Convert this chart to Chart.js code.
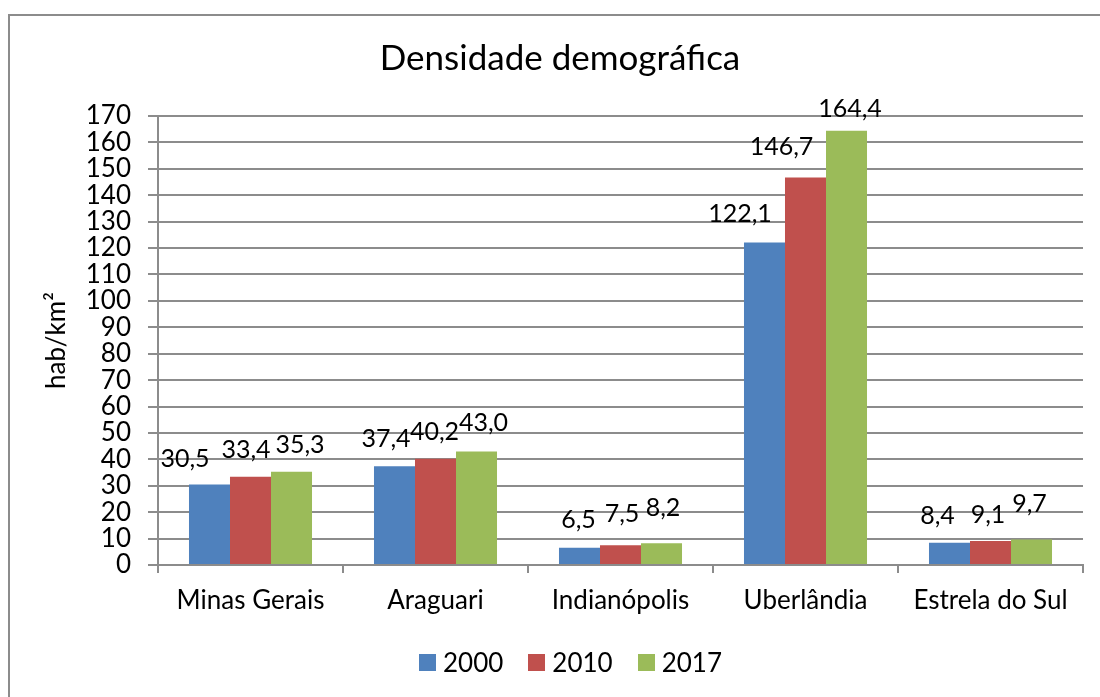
<!DOCTYPE html>
<html>
<head>
<meta charset="utf-8">
<title>Densidade demográfica</title>
<script src="https://cdn.jsdelivr.net/npm/chart.js@4.4.0/dist/chart.umd.min.js"></script>
<style>
  html, body { margin: 0; padding: 0; background: #fff; }
  #wrap { position: relative; width: 1100px; height: 697px; overflow: hidden; }
  #frame { position: absolute; left: 8px; top: 14px; width: 1200px; height: 800px;
           border-left: 2px solid #8c8c8c; border-top: 2px solid #8c8c8c; }
  #chart { position: absolute; left: 0; top: 0; }
  #legend { position: absolute; left: 419px; top: 647px; display: flex; align-items: center;
            font: 26px Lato, sans-serif; color: #000; }
  .item { display: flex; align-items: center; margin-right: 25px; line-height: 30px; }
  .box { width: 17px; height: 17px; margin-right: 7px; }
</style>
</head>
<body>
<div id="wrap">
  <div id="frame"></div>
  <canvas id="chart" width="1100" height="697"></canvas>
  <div id="legend"></div>
</div>
<script>
// data
const categories = ['Minas Gerais', 'Araguari', 'Indianópolis', 'Uberlândia', 'Estrela do Sul'];
const years = ['2000', '2010', '2017'];
const values2000 = [30.5, 37.4, 6.5, 122.1, 8.4];
const values2010 = [33.4, 40.2, 7.5, 146.7, 9.1];
const values2017 = [35.3, 43.0, 8.2, 164.4, 9.7];
const yTicks = { min: 0, max: 170, step: 10 };

// styling
const colors = ['#4F81BD', '#C0504D', '#9BBB59'];
const gridColor = '#8c8c8c';
const FONT = 'Lato, sans-serif';
// hand-placed label nudges (px), per series then category
const labelDx = [
  [-24.5, -8.5, -1, -24.5, -12],
  [-4.5, -1, 1.5, -24, -2.5],
  [8.5, 7, 1.5, 3.5, -2]
];
const labelGap = [
  [17, 19, 20, 21, 19],
  [19, 19, 23, 23, 18],
  [19, 20, 27, 14, 27]
];

const fmt = (v) => v.toFixed(1).replace('.', ',');

// draws the value labels above the bars
const valueLabels = {
  id: 'valueLabels',
  afterDatasetsDraw(chart) {
    const ctx = chart.ctx;
    ctx.save();
    ctx.font = '25px ' + FONT;
    ctx.fillStyle = '#000';
    ctx.textAlign = 'center';
    ctx.textBaseline = 'alphabetic';
    chart.data.datasets.forEach((ds, di) => {
      chart.getDatasetMeta(di).data.forEach((bar, i) => {
        ctx.fillText(fmt(ds.data[i]), bar.x + labelDx[di][i], bar.y - labelGap[di][i]);
      });
    });
    ctx.restore();
  }
};

const seriesValues = [values2000, values2010, values2017];

const chart = new Chart(document.getElementById('chart').getContext('2d'), {
  type: 'bar',
  data: {
    labels: categories,
    datasets: years.map((y, i) => ({
      label: y,
      data: seriesValues[i],
      backgroundColor: colors[i],
      borderWidth: 0,
      barPercentage: 1,
      categoryPercentage: 0.665
    }))
  },
  options: {
    responsive: false,
    animation: false,
    layout: { padding: { left: 37, right: 17, top: 0, bottom: 0 } },
    plugins: {
      legend: { display: false },
      tooltip: { enabled: false },
      title: {
        display: true,
        text: 'Densidade demográfica',
        color: '#000',
        font: { family: FONT, size: 35, weight: 'normal' },
        padding: { top: 38, bottom: 36 }
      }
    },
    scales: {
      x: {
        afterFit: (s) => { s.height = 132; },
        grid: { drawOnChartArea: false, drawTicks: true, tickLength: 8, offset: true, color: gridColor, lineWidth: 2 },
        border: { display: true, color: gridColor, width: 2 },
        ticks: { color: '#000', font: { family: FONT, size: 26 }, padding: 12, maxRotation: 0 }
      },
      y: {
        min: yTicks.min,
        max: yTicks.max,
        afterFit: (s) => { s.width = 121; },
        grid: { color: gridColor, lineWidth: 2, tickLength: 10 },
        border: { display: true, color: gridColor, width: 2 },
        ticks: { stepSize: yTicks.step, autoSkip: false, color: '#000', font: { family: FONT, size: 26 }, padding: 17 },
        title: {
          display: true,
          text: 'hab/km²',
          color: '#000',
          font: { family: FONT, size: 26 },
          padding: { top: 4, bottom: 0 }
        }
      }
    }
  },
  plugins: [valueLabels]
});

// legend built from the datasets
const legend = document.getElementById('legend');
chart.data.datasets.forEach((ds) => {
  const item = document.createElement('div');
  item.className = 'item';
  const box = document.createElement('span');
  box.className = 'box';
  box.style.background = ds.backgroundColor;
  const txt = document.createElement('span');
  txt.textContent = ds.label;
  item.appendChild(box);
  item.appendChild(txt);
  legend.appendChild(item);
});
</script>
</body>
</html>
